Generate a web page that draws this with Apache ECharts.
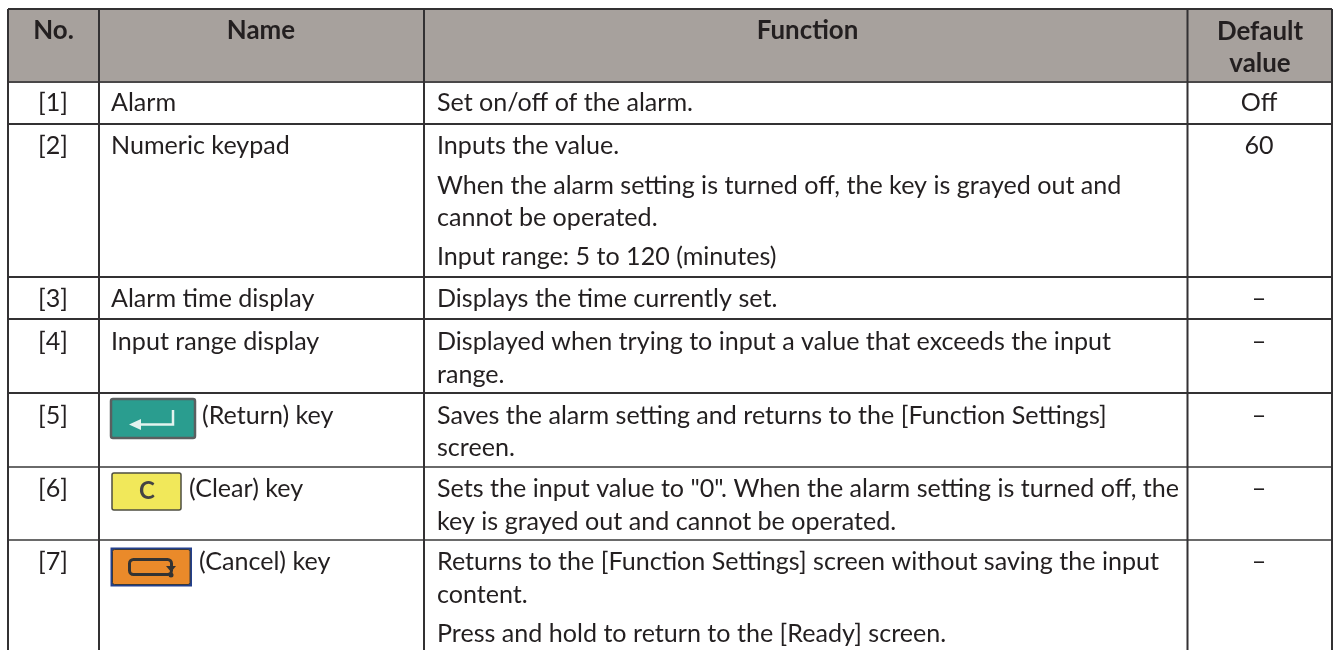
<!DOCTYPE html>
<html><head><meta charset="utf-8">
<style>html,body{margin:0;padding:0;background:#fff}#c{width:1333px;height:650px}</style>
<script src="https://cdn.jsdelivr.net/npm/echarts@6/dist/echarts.min.js"></script>
</head><body><div id="c"></div>
<script>
const headers = ["No.", "Name", "Function", "Default\nvalue"];
const numbers = ["[1]","[2]","[3]","[4]","[5]","[6]","[7]"];
const names = ["Alarm","Numeric keypad","Alarm time display","Input range display","(Return) key","(Clear) key","(Cancel) key"];
const functions = [
 [[103,"Set on/off of the alarm."]],
 [[146,"Inputs the value."],[186,"When the alarm setting is turned off, the key is grayed out and"],[218,"cannot be operated."],[257,"Input range: 5 to 120 (minutes)"]],
 [[299,"Displays the time currently set."]],
 [[342,"Displayed when trying to input a value that exceeds the input"],[375,"range."]],
 [[416,"Saves the alarm setting and returns to the [Function Settings]"],[448,"screen."]],
 [[489,"Sets the input value to \"0\". When the alarm setting is turned off, the"],[522,"key is grayed out and cannot be operated."]],
 [[562,"Returns to the [Function Settings] screen without saving the input"],[595,"content."],[634,"Press and hold to return to the [Ready] screen."]]
];
const defaults = ["Off","60","–","–","–","–","–"];
const colX = [8,99,424,1187.5,1332];
const rowY = [9,82,124,277,319,393,467,540];
const rowColor = ['#333133','#4a4849','#333133','#333133','#333133','#333133','#6a6a6a','#6a6a6a'];
const rowTextY = [103,146,299,342,416,489,562];
const nameX = [111,111,111,111,202,189,199];

const FONT = 'Lato,"Open Sans",sans-serif';
const INK = '#231f20';
const BODY = 25.1, HEAD = 25.9;
const els = [];
const txt = (x,y,t,o={}) => els.push({type:'text',x,y,style:Object.assign({text:t,fill:INK,font:`${o.bold?'bold ':''}${o.size||BODY}px ${FONT}`,textAlign:o.align||'left',textVerticalAlign:'middle',lineHeight:32},o.style||{})});
const line = (x1,y1,x2,y2,w=2,c='#333133') => els.push({type:'line',shape:{x1,y1,x2,y2},style:{stroke:c,lineWidth:w}});
const rect = (x,y,w,h,fill,stroke,lw=1,r=0) => els.push({type:'rect',shape:{x,y,width:w,height:h,r},style:{fill,stroke,lineWidth:lw}});

rect(colX[0],rowY[0],colX[4]-colX[0],rowY[1]-rowY[0],'#a7a19d',null,0);
const headY=[31,31,31,47.5];
const headC=[53.5,261,807.5,1260];
headers.forEach((h,i)=>txt(headC[i],headY[i],h,{bold:true,align:'center',size:HEAD}));
numbers.forEach((n,i)=>{
  txt(53,rowTextY[i],n,{align:'center'});
  txt(nameX[i],rowTextY[i],names[i]);
  txt(1259,rowTextY[i],defaults[i],{align:'center'});
  functions[i].forEach(l=>txt(437,l[0],l[1]));
});
rowY.forEach((y,i)=>line(colX[0],y,colX[4],y,2,rowColor[i]));
colX.forEach(x=>line(x,rowY[0],x,650));

// key icons
rect(111,399,84,39,'#2a9d8f','#5a5f60',2.5,2);
els.push({type:'polyline',shape:{points:[[173,410],[173,424.5],[137,424.5]]},style:{stroke:'#e4f3ef',lineWidth:2.5,fill:null}});
els.push({type:'polygon',shape:{points:[[129,424.5],[141,419],[141,430]]},style:{fill:'#e4f3ef'}});
rect(112,473,69,37,'#f1e85a','#4d4d40',1.5,2);
txt(147,491,'C',{bold:true,align:'center',size:24,style:{fill:'#444'}});
rect(110.5,547.5,81.5,39,'#24408c',null,0);
rect(112.5,549.5,77.5,35,'#ea8a2a','#3a3a3a',1,2);
els.push({type:'rect',shape:{x:129.5,y:559.5,width:42,height:15,r:4},style:{fill:null,stroke:'#333',lineWidth:3}});
els.push({type:'polygon',shape:{points:[[166,566],[176,566],[171,572]]},style:{fill:'#333'}});
els.push({type:'circle',shape:{cx:171,cy:575,r:2.5},style:{fill:'#333'}});

const chart = echarts.init(document.getElementById('c'),null,{renderer:'canvas'});
chart.setOption({animation:false,graphic:{elements:els}});
</script></body></html>
